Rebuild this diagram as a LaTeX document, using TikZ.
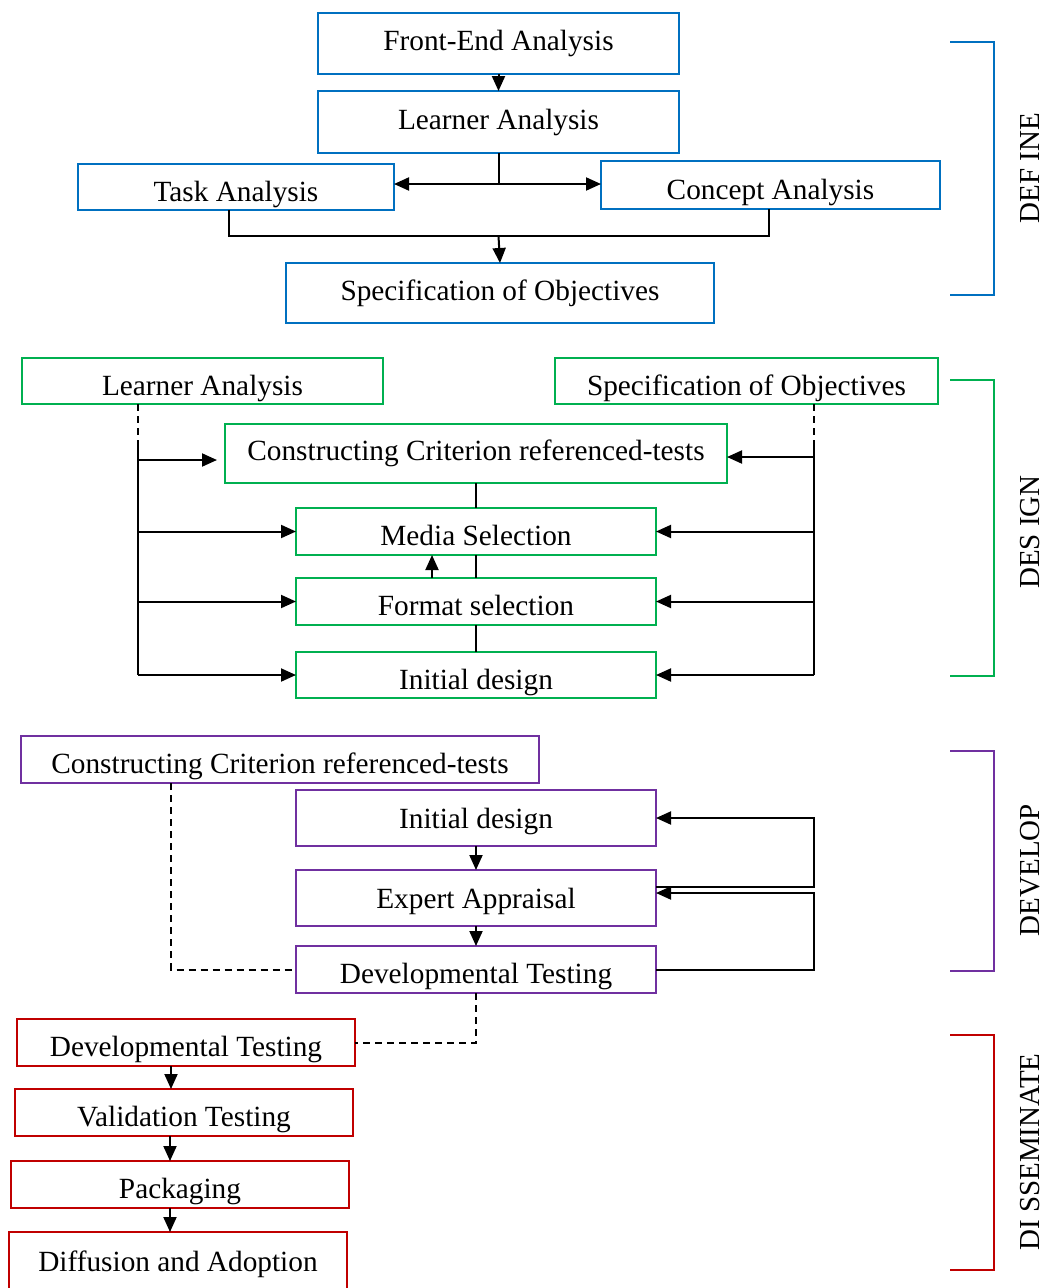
\documentclass[tikz,border=0pt]{standalone}
\usepackage{fontspec}
\setmainfont{Liberation Serif}
\usepackage{xcolor}
\usetikzlibrary{arrows.meta}

\definecolor{defblue}{HTML}{0070C0}
\definecolor{desgreen}{HTML}{00B050}
\definecolor{devpurple}{HTML}{7030A0}
\definecolor{disred}{HTML}{C00000}

\begin{document}
\begin{tikzpicture}[x=1pt,y=-1pt,
  stage/.style={draw,line width=2pt,inner sep=0pt,outer sep=0pt,text=black,
    text height=20pt,text depth=6pt,font=\fontsize{29.3}{33}\selectfont},
  lowtext/.style={text height=34pt,text depth=6pt},
  midtext/.style={text height=26pt,text depth=6pt},
  link/.style={black,line width=2pt},
  dlink/.style={black,line width=2pt,dash pattern=on 7pt off 5pt},
  phase/.style={rotate=90,font=\fontsize{29}{33}\selectfont}]
\useasboundingbox (0,0) rectangle (1050,1288);
\clip (0,0) rectangle (1050,1288);
\begin{scope}[>={Triangle[length=15pt,width=13pt]}]

    % define
    \node[stage,draw=defblue,minimum width=361pt,minimum height=61pt] (fea) at (498.5,43.5) {Front-End Analysis};
    \node[stage,draw=defblue,minimum width=361pt,minimum height=62pt] (la1) at (498.5,122) {Learner Analysis};
    \node[stage,lowtext,draw=defblue,minimum width=316pt,minimum height=46pt] (ta) at (236,187) {Task Analysis};
    \node[stage,lowtext,draw=defblue,minimum width=339pt,minimum height=48pt] (ca) at (770.5,185) {Concept Analysis};
    \node[stage,draw=defblue,minimum width=428pt,minimum height=60pt] (so1) at (500,293) {Specification of Objectives};
    \coordinate (split) at (498.5,184);
    \coordinate (join) at (498.5,236);

    \draw[link,->] (fea) -- (la1);
    \draw[link] (la1.south) -- (split);
    \draw[link,->] (split) -- (ta.east |- split);
    \draw[link,->] (split) -- (ca.west |- split);
    \draw[link] ([xshift=-7pt]ta.south) -- ([xshift=-7pt]ta.south |- join) -- ([xshift=-1.5pt]ca.south |- join) -- ([xshift=-1.5pt]ca.south);
    \draw[link,->] (join) -- (so1.north);

    % design
    \node[stage,lowtext,draw=desgreen,minimum width=361pt,minimum height=46pt] (la2) at (202.5,381) {Learner Analysis};
    \node[stage,lowtext,draw=desgreen,minimum width=383pt,minimum height=46pt] (so2) at (746.5,381) {Specification of Objectives};
    \node[stage,draw=desgreen,minimum width=502pt,minimum height=59pt] (crt1) at (476,453.5) {Constructing Criterion referenced-tests};
    \node[stage,lowtext,draw=desgreen,minimum width=360pt,minimum height=47pt] (ms) at (476,531.5) {Media Selection};
    \node[stage,lowtext,draw=desgreen,minimum width=360pt,minimum height=47pt] (fs) at (476,601.5) {Format selection};
    \node[stage,lowtext,draw=desgreen,minimum width=360pt,minimum height=46pt] (id1) at (476,675) {Initial design};
    \coordinate (lbus) at (138,447);
    \coordinate (lend) at (138,675);
    \coordinate (rbus) at (814,447);
    \coordinate (rend) at (814,675);

    \draw[dlink] (lbus |- la2.south) -- (lbus);
    \draw[link] (lbus) -- (lend);
    \draw[link,->] (138,460) -- ([xshift=-8pt]crt1.west |- 0,460);
    \draw[link,->] (lbus |- ms.west) -- (ms.west);
    \draw[link,->] (lbus |- fs.west) -- (fs.west);
    \draw[link,->] (lend) -- (id1.west);

    \draw[dlink] (rbus |- so2.south) -- (rbus);
    \draw[link] (rbus) -- (rend);
    \draw[link,->] (814,457) -- (crt1.east |- 0,457);
    \draw[link,->] (rbus |- ms.east) -- (ms.east);
    \draw[link,->] (rbus |- fs.east) -- (fs.east);
    \draw[link,->] (rend) -- (id1.east);

    \draw[link] (crt1) -- (ms);
    \draw[link] (ms) -- (fs);
    \draw[link,->] ([xshift=-44pt]fs.north) -- ([xshift=-44pt]ms.south);
    \draw[link] (fs) -- (id1);

    % develop
    \node[stage,lowtext,draw=devpurple,minimum width=518pt,minimum height=47pt] (crt2) at (280,759.5) {Constructing Criterion referenced-tests};
    \node[stage,midtext,draw=devpurple,minimum width=360pt,minimum height=56pt] (id2) at (476,818) {Initial design};
    \node[stage,midtext,draw=devpurple,minimum width=360pt,minimum height=56pt] (ea) at (476,898) {Expert Appraisal};
    \node[stage,lowtext,draw=devpurple,minimum width=360pt,minimum height=47pt] (dt1) at (476,969.5) {Developmental Testing};
    \coordinate (dbend) at (171,969.5);

    \draw[dlink] (dbend |- crt2.south) -- (dbend) -- (dt1.west);
    \draw[link,->] (id2) -- (ea);
    \draw[link,->] (ea) -- (dt1);
    \draw[link,->] ([yshift=11pt]ea.east) -- (814,887) |- (id2.east);
    \draw[link,->] (dt1.east) -- (814,969.5) |- ([yshift=5pt]ea.east);

    % disseminate
    \node[stage,lowtext,draw=disred,minimum width=338pt,minimum height=47pt] (dt2) at (186,1042.5) {Developmental Testing};
    \node[stage,lowtext,draw=disred,minimum width=338pt,minimum height=47pt] (vt) at (184,1112.5) {Validation Testing};
    \node[stage,lowtext,draw=disred,minimum width=338pt,minimum height=47pt] (pk) at (180,1184.5) {Packaging};
    \node[stage,text height=16pt,draw=disred,minimum width=338pt,minimum height=68pt] (da) at (178,1266) {Diffusion and Adoption};

    \draw[dlink] (dt1.south) -- (dt1.south |- dt2.east) -- (dt2.east);
    \draw[link,->] ([xshift=-15pt]dt2.south) -- ([xshift=-15pt]dt2.south |- vt.north);
    \draw[link,->] ([xshift=-14pt]vt.south) -- ([xshift=-14pt]vt.south |- pk.north);
    \draw[link,->] ([xshift=-10pt]pk.south) -- ([xshift=-10pt]pk.south |- da.north);

    % phases
    \draw[defblue,line width=2pt] (950,42) -- (994,42) -- (994,295) -- (950,295);
    \draw[desgreen,line width=2pt] (950,380) -- (994,380) -- (994,676) -- (950,676);
    \draw[devpurple,line width=2pt] (950,751) -- (994,751) -- (994,971) -- (950,971);
    \draw[disred,line width=2pt] (950,1035) -- (994,1035) -- (994,1270) -- (950,1270);
    \node[phase] (pdefine) at (1030,168) {DEF INE};
    \node[phase] (pdesign) at (1030,532) {DES IGN};
    \node[phase] (pdevelop) at (1030,870) {DEVELOP};
    \node[phase] (pdissem) at (1030,1152) {DI SSEMINATE};

\end{scope}
\end{tikzpicture}
\end{document}
